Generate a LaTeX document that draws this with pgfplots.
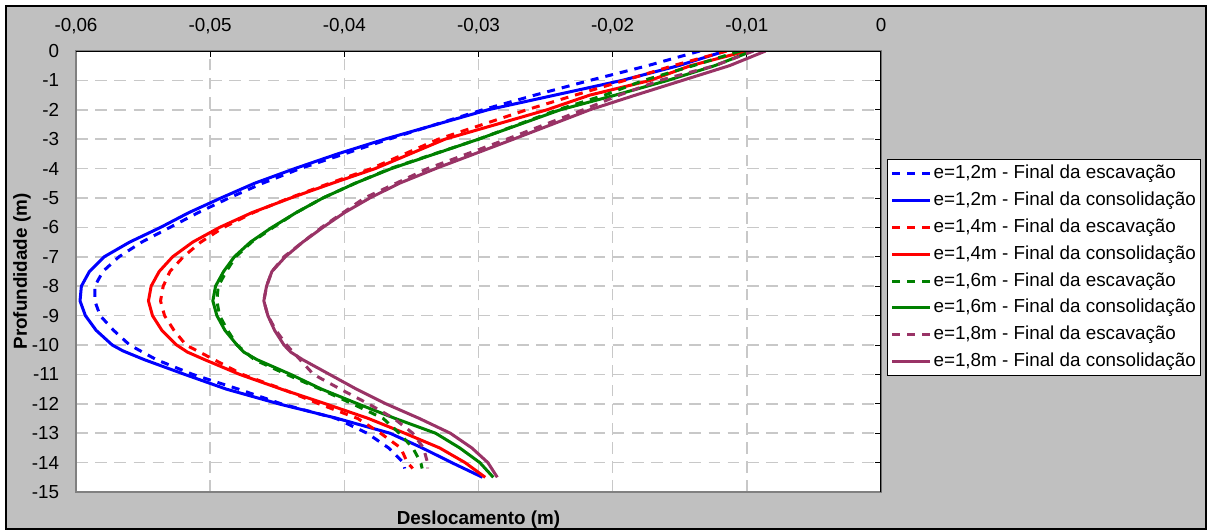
\documentclass[border=0pt]{standalone}
\usepackage{fontspec}
\setmainfont{Liberation Sans}
\usepackage{pgfplots}
\pgfplotsset{compat=1.18}
\definecolor{cblue}{RGB}{0,0,255}
\definecolor{cred}{RGB}{255,0,0}
\definecolor{cgreen}{RGB}{0,128,0}
\definecolor{cpurp}{RGB}{153,51,102}
\definecolor{chartgray}{RGB}{192,192,192}
\definecolor{gridgray}{RGB}{200,200,200}
\definecolor{axgray}{RGB}{128,128,128}
\newcommand{\cf}{\fontsize{11.3pt}{13pt}\selectfont}
\begin{document}
\begin{tikzpicture}
\fill[white] (0pt,0pt) rectangle (724.2pt,-318pt);
\filldraw[fill=chartgray, draw=black, line width=1.2pt] (3.6pt,-3.6pt) rectangle (723.3pt,-317.1pt);
\begin{axis}[
  at={(45.6pt,-295.2pt)}, anchor=south west,
  width=483pt, height=264.6pt, scale only axis,
  xmin=-0.06, xmax=0, ymin=-15, ymax=0,
  axis background/.style={fill=white},
  axis line style={draw=axgray, line width=0.9pt},
  xtick={-0.06,-0.05,-0.04,-0.03,-0.02,-0.01,0},
  xticklabels={{-0,06},{-0,05},{-0,04},{-0,03},{-0,02},{-0,01},{0}},
  ytick={0,-1,-2,-3,-4,-5,-6,-7,-8,-9,-10,-11,-12,-13,-14,-15},
  yticklabels={0,-1,-2,-3,-4,-5,-6,-7,-8,-9,-10,-11,-12,-13,-14,-15},
  xtick pos=right, xticklabel pos=right,
  ytick pos=right, yticklabel pos=left,
  tick align=inside, major tick length=3.5pt,
  tick style={black, line width=0.6pt},
  every tick label/.append style={font=\cf},
  xticklabel style={anchor=base, yshift=11.5pt},
  yticklabel style={anchor=east, inner sep=0pt, xshift=-10pt},
  grid=major,
  major grid style={draw=gridgray, line width=0.9pt, dash pattern=on 7pt off 4.5pt},
  xlabel={Deslocamento (m)}, ylabel={Profundidade (m)},
  label style={font=\cf\bfseries},
  xlabel style={at={(axis description cs:0.5,-0.062)}, anchor=center},
  ylabel style={at={(axis description cs:-0.0671,0.5)}, anchor=center},
  legend style={at={(1.0075,0.7551)}, anchor=north west, draw=black, fill=white,
    line width=0.6pt, font=\cf, inner xsep=2pt, inner ysep=1.5pt, row sep=2.1pt,
    nodes={inner sep=1pt, text height=9pt, text depth=3pt}},
  legend cell align=left,
  legend image code/.code={\draw[#1] (0pt,0pt) -- (22.8pt,0pt);},
  every axis plot/.append style={line width=1.8pt, line join=round},
  dashl/.style={dash pattern=on 4.8pt off 4.2pt},
]
\addplot[cblue, dashl] coordinates {
(-0.0135,0) (-0.0174,-0.5) (-0.0217,-1) (-0.0258,-1.5) (-0.0297,-2) (-0.0367,-3)
(-0.0400,-3.5) (-0.0433,-4) (-0.0461,-4.5) (-0.0486,-5) (-0.0509,-5.5) (-0.0530,-6)
(-0.0551,-6.5) (-0.0568,-7) (-0.0580,-7.5) (-0.0586,-8) (-0.0586,-8.5) (-0.0582,-9)
(-0.0572,-9.5) (-0.0560,-10) (-0.0540,-10.5) (-0.0513,-11) (-0.0479,-11.5)
(-0.0447,-12) (-0.0406,-12.5) (-0.0383,-13) (-0.0367,-13.5) (-0.0356,-14) (-0.0355,-14.2)};
\addlegendentry{e=1,2m - Final da escavação}
\addplot[cblue] coordinates {
(-0.0116,0) (-0.0151,-0.5) (-0.0193,-1) (-0.0243,-1.5) (-0.0293,-2) (-0.0370,-3)
(-0.0405,-3.5) (-0.0437,-4) (-0.0467,-4.5) (-0.0492,-5) (-0.0516,-5.5) (-0.0537,-6)
(-0.0560,-6.5) (-0.0579,-7) (-0.0590,-7.5) (-0.0596,-8) (-0.0597,-8.5) (-0.0593,-9)
(-0.0585,-9.5) (-0.0573,-10) (-0.0565,-10.2) (-0.0549,-10.5) (-0.0519,-11)
(-0.0488,-11.5) (-0.0449,-12) (-0.0405,-12.5) (-0.0366,-13) (-0.0342,-13.5)
(-0.0320,-14) (-0.0297,-14.5)};
\addlegendentry{e=1,2m - Final da consolidação}
\addplot[cred, dashl] coordinates {
(-0.0115,0) (-0.0155,-0.5) (-0.0191,-1) (-0.0228,-1.5) (-0.0264,-2) (-0.0330,-3)
(-0.0380,-4) (-0.0411,-4.5) (-0.0441,-5) (-0.0468,-5.5) (-0.0490,-6) (-0.0507,-6.5)
(-0.0520,-7) (-0.0530,-7.5) (-0.0535,-8) (-0.0537,-8.5) (-0.0534,-9) (-0.0527,-9.5)
(-0.0518,-10) (-0.0497,-10.5) (-0.0476,-11) (-0.0446,-11.5) (-0.0419,-12)
(-0.0390,-12.5) (-0.0373,-13) (-0.0358,-13.5) (-0.0353,-14) (-0.0349,-14.2)};
\addlegendentry{e=1,4m - Final da escavação}
\addplot[cred] coordinates {
(-0.0100,0) (-0.0142,-0.5) (-0.0172,-1) (-0.0217,-1.5) (-0.0249,-2) (-0.0325,-3)
(-0.0377,-4) (-0.0409,-4.5) (-0.0440,-5) (-0.0469,-5.5) (-0.0493,-6) (-0.0513,-6.5)
(-0.0528,-7) (-0.0538,-7.5) (-0.0544,-8) (-0.0546,-8.5) (-0.0543,-9) (-0.0536,-9.5)
(-0.0525,-10) (-0.0517,-10.24) (-0.0504,-10.5) (-0.0478,-11) (-0.0447,-11.5)
(-0.0414,-12) (-0.0382,-12.5) (-0.0355,-13) (-0.0329,-13.5) (-0.0310,-14) (-0.0295,-14.5)};
\addlegendentry{e=1,4m - Final da consolidação}
\addplot[cgreen, dashl] coordinates {
(-0.0105,0) (-0.0140,-0.5) (-0.0177,-1) (-0.0206,-1.5) (-0.0241,-2) (-0.0300,-3)
(-0.0366,-4) (-0.0392,-4.5) (-0.0416,-5) (-0.0436,-5.5) (-0.0453,-6) (-0.0469,-6.5)
(-0.0481,-7) (-0.0488,-7.5) (-0.0494,-8) (-0.0495,-8.5) (-0.0493,-9) (-0.0487,-9.5)
(-0.0480,-10) (-0.0467,-10.5) (-0.0443,-11) (-0.0418,-11.5) (-0.0394,-12)
(-0.0371,-12.5) (-0.0359,-13) (-0.0349,-13.5) (-0.0343,-14) (-0.0342,-14.2)};
\addlegendentry{e=1,6m - Final da escavação}
\addplot[cgreen] coordinates {
(-0.0096,0) (-0.0124,-0.5) (-0.0159,-1) (-0.0198,-1.5) (-0.0239,-2) (-0.0300,-3)
(-0.0365,-4) (-0.0392,-4.5) (-0.0416,-5) (-0.0436,-5.5) (-0.0454,-6) (-0.0470,-6.5)
(-0.0482,-7) (-0.0490,-7.5) (-0.0496,-8) (-0.0498,-8.5) (-0.0495,-9) (-0.0489,-9.5)
(-0.0480,-10) (-0.0475,-10.24) (-0.0465,-10.5) (-0.0440,-11) (-0.0417,-11.5)
(-0.0390,-12) (-0.0362,-12.5) (-0.0332,-13) (-0.0314,-13.5) (-0.0299,-14) (-0.0289,-14.5)};
\addlegendentry{e=1,6m - Final da consolidação}
\addplot[cpurp, dashl] coordinates {
(-0.0095,0) (-0.0124,-0.5) (-0.0165,-1) (-0.0195,-1.5) (-0.0222,-2) (-0.0279,-3)
(-0.0338,-4) (-0.0385,-5) (-0.0417,-6) (-0.0445,-7) (-0.0454,-7.5) (-0.0458,-8)
(-0.0460,-8.5) (-0.0457,-9) (-0.0451,-9.5) (-0.0443,-10) (-0.0433,-10.5) (-0.0423,-11)
(-0.0403,-11.5) (-0.0382,-12) (-0.0363,-12.5) (-0.0349,-13) (-0.0341,-13.5)
(-0.0338,-14) (-0.0338,-14.2)};
\addlegendentry{e=1,8m - Final da escavação}
\addplot[cpurp] coordinates {
(-0.0086,0) (-0.0113,-0.5) (-0.0148,-1) (-0.0183,-1.5) (-0.0217,-2) (-0.0274,-3)
(-0.0332,-4) (-0.0359,-4.5) (-0.0381,-5) (-0.0400,-5.5) (-0.0416,-6) (-0.0431,-6.5)
(-0.0444,-7) (-0.0454,-7.5) (-0.0458,-8) (-0.0460,-8.5) (-0.0457,-9) (-0.0452,-9.5)
(-0.0445,-10) (-0.0440,-10.24) (-0.0431,-10.5) (-0.0411,-11) (-0.0391,-11.5)
(-0.0369,-12) (-0.0344,-12.5) (-0.0321,-13) (-0.0305,-13.5) (-0.0293,-14) (-0.0286,-14.5)};
\addlegendentry{e=1,8m - Final da consolidação}
\draw[black, line width=0.8pt] (rel axis cs:0,1) -- (rel axis cs:1,1) -- (rel axis cs:1,0);
\end{axis}
\pgfresetboundingbox
\path[use as bounding box] (0pt,0pt) rectangle (724.2pt,-318pt);
\end{tikzpicture}
\end{document}
